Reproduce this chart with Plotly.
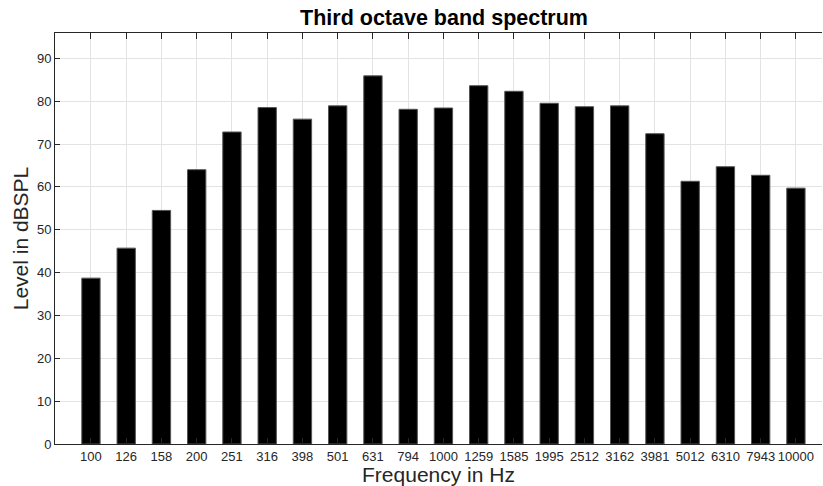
import plotly.graph_objects as go

frequencies = ["100", "126", "158", "200", "251", "316", "398", "501", "631", "794",
               "1000", "1259", "1585", "1995", "2512", "3162", "3981", "5012", "6310", "7943", "10000"]
levels = [38.7, 45.7, 54.5, 64.0, 72.8, 78.5, 75.8, 78.9, 85.9, 78.1,
          78.4, 83.6, 82.3, 79.5, 78.7, 78.9, 72.4, 61.3, 64.7, 62.7, 59.7]
y_ticks = [0, 10, 20, 30, 40, 50, 60, 70, 80, 90]

FONT = "Liberation Sans, Arial, Helvetica, sans-serif"
AX = "#262626"

fig = go.Figure(go.Bar(
    x=list(range(len(frequencies))), y=levels,
    width=0.52,
    marker=dict(color="black", line=dict(color="#555555", width=1)),
))

fig.update_layout(
    width=823, height=486,
    margin=dict(l=55, r=1, t=33, b=42, autoexpand=False),
    paper_bgcolor="white", plot_bgcolor="white",
    showlegend=False,
    title=dict(text="<b>Third octave band spectrum</b>", x=444 / 823, xanchor="center",
               y=1 - 17 / 486, yanchor="middle", automargin=False,
               font=dict(family=FONT, size=21.5, color="black")),
    font=dict(family=FONT, color=AX),
    xaxis=dict(
        tickmode="array", tickvals=list(range(len(frequencies))), ticktext=frequencies,
        range=[-1.02, 20.74], automargin=False,
        showgrid=True, gridcolor="#e3e3e3", gridwidth=1,
        showline=True, linecolor=AX, linewidth=1, mirror="ticks",
        ticks="inside", ticklen=6, tickcolor=AX,
        tickfont=dict(size=13, color=AX), zeroline=False,
        title=dict(text="Frequency in Hz", font=dict(size=21, color=AX), standoff=0),
    ),
    yaxis=dict(
        tickmode="array", tickvals=y_ticks,
        range=[0, 95.9], automargin=False,
        showgrid=True, gridcolor="#e3e3e3", gridwidth=1,
        showline=True, linecolor=AX, linewidth=1,
        ticks="inside", ticklen=5, tickcolor=AX,
        tickfont=dict(size=13, color=AX), zeroline=False,
        title=dict(text="Level in dBSPL", font=dict(size=21, color=AX), standoff=2),
    ),
)

fig.write_html("out.html", config={"displayModeBar": False},
               post_script="document.body.style.margin='0';document.body.style.overflow='hidden';")
